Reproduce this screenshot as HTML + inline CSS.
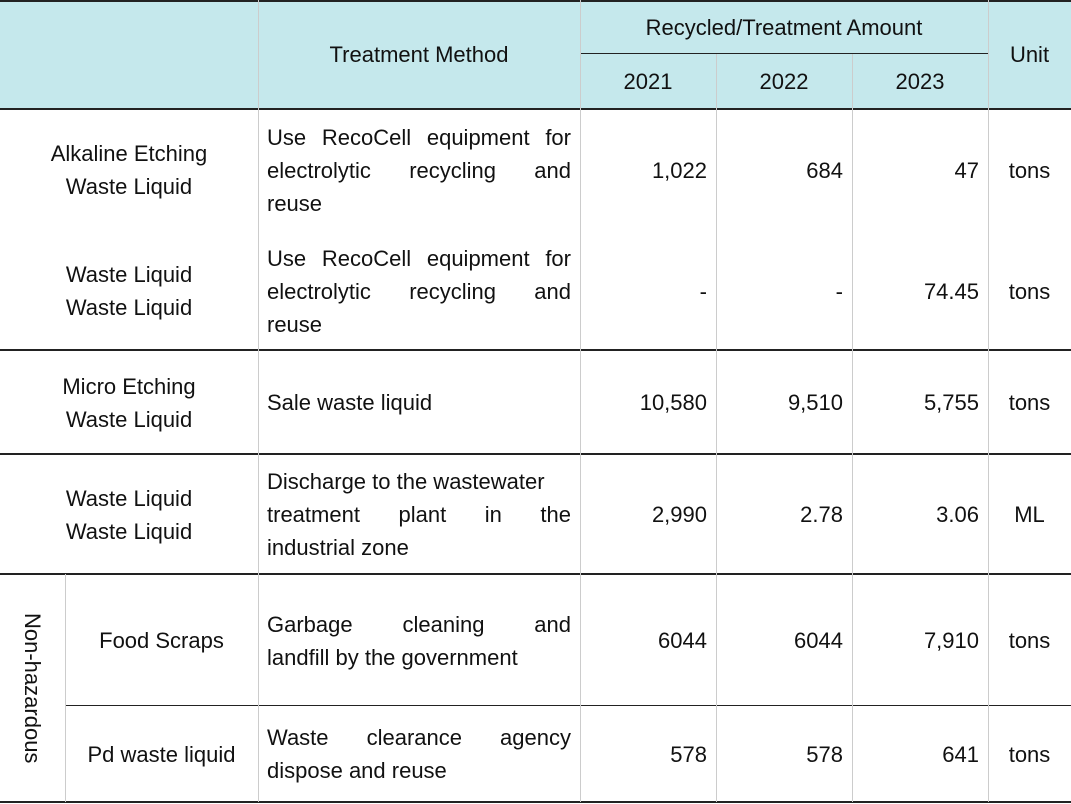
<!DOCTYPE html>
<html><head><meta charset="utf-8"><style>
body{margin:0;width:1071px;height:804px;background:#fff;font-family:"Liberation Sans",sans-serif;color:#111;overflow:hidden;position:relative}
.c{position:absolute;display:flex;align-items:center;justify-content:center;text-align:center;font-size:22px;line-height:33px;box-sizing:border-box}
.r{justify-content:flex-end;padding-right:9px}
.j{justify-content:flex-start;padding:0 9px}
.j>div{width:100%}
.j span{display:block;text-align:justify;text-align-last:justify;white-space:nowrap}
.j span.l{text-align-last:left}
.hl{position:absolute;height:2px;background:#222}
.vl{position:absolute;width:0;border-left:1px solid #ccc}
</style></head><body>
<div style="position:absolute;left:0;top:0;width:1071px;height:109px;background:#c5e8ec"></div>
<div class="hl" style="left:0;top:0;width:1071px"></div>
<div class="hl" style="left:580px;top:53px;width:408px;height:1px"></div>
<div class="hl" style="left:0;top:108px;width:1071px"></div>
<div class="hl" style="left:0;top:349px;width:1071px"></div>
<div class="hl" style="left:0;top:453px;width:1071px"></div>
<div class="hl" style="left:0;top:573px;width:1071px"></div>
<div class="hl" style="left:65px;top:705px;width:1006px;height:1px"></div>
<div class="hl" style="left:0;top:801px;width:1071px"></div>
<div class="vl" style="left:258px;top:0;height:802px"></div>
<div class="vl" style="left:580px;top:0;height:802px"></div>
<div class="vl" style="left:716px;top:54px;height:748px"></div>
<div class="vl" style="left:852px;top:54px;height:748px"></div>
<div class="vl" style="left:988px;top:0;height:802px"></div>
<div class="vl" style="left:65px;top:574px;height:228px"></div>

<div class="c" style="left:258px;top:0;width:322px;height:109px">Treatment Method</div>
<div class="c" style="left:580px;top:0;width:408px;height:54px">Recycled/Treatment Amount</div>
<div class="c" style="left:580px;top:54px;width:136px;height:55px">2021</div>
<div class="c" style="left:716px;top:54px;width:136px;height:55px">2022</div>
<div class="c" style="left:852px;top:54px;width:136px;height:55px">2023</div>
<div class="c" style="left:988px;top:0;width:83px;height:109px">Unit</div>

<div class="c" style="left:0;top:109px;width:258px;height:122px">Alkaline Etching<br>Waste Liquid</div>
<div class="c j" style="left:258px;top:109px;width:322px;height:122px"><div><span>Use RecoCell equipment for</span><span>electrolytic recycling and</span><span class="l">reuse</span></div></div>
<div class="c r" style="left:580px;top:109px;width:136px;height:122px">1,022</div>
<div class="c r" style="left:716px;top:109px;width:136px;height:122px">684</div>
<div class="c r" style="left:852px;top:109px;width:136px;height:122px">47</div>
<div class="c" style="left:988px;top:109px;width:83px;height:122px">tons</div>

<div class="c" style="left:0;top:231px;width:258px;height:120px">Waste Liquid<br>Waste Liquid</div>
<div class="c j" style="left:258px;top:231px;width:322px;height:120px"><div><span>Use RecoCell equipment for</span><span>electrolytic recycling and</span><span class="l">reuse</span></div></div>
<div class="c r" style="left:580px;top:231px;width:136px;height:120px">-</div>
<div class="c r" style="left:716px;top:231px;width:136px;height:120px">-</div>
<div class="c r" style="left:852px;top:231px;width:136px;height:120px">74.45</div>
<div class="c" style="left:988px;top:231px;width:83px;height:120px">tons</div>

<div class="c" style="left:0;top:351px;width:258px;height:103px">Micro Etching<br>Waste Liquid</div>
<div class="c j" style="left:258px;top:351px;width:322px;height:103px"><div><span class="l">Sale waste liquid</span></div></div>
<div class="c r" style="left:580px;top:351px;width:136px;height:103px">10,580</div>
<div class="c r" style="left:716px;top:351px;width:136px;height:103px">9,510</div>
<div class="c r" style="left:852px;top:351px;width:136px;height:103px">5,755</div>
<div class="c" style="left:988px;top:351px;width:83px;height:103px">tons</div>

<div class="c" style="left:0;top:455px;width:258px;height:119px">Waste Liquid<br>Waste Liquid</div>
<div class="c j" style="left:258px;top:455px;width:322px;height:119px"><div><span class="l">Discharge to the wastewater</span><span>treatment plant in the</span><span class="l">industrial zone</span></div></div>
<div class="c r" style="left:580px;top:455px;width:136px;height:119px">2,990</div>
<div class="c r" style="left:716px;top:455px;width:136px;height:119px">2.78</div>
<div class="c r" style="left:852px;top:455px;width:136px;height:119px">3.06</div>
<div class="c" style="left:988px;top:455px;width:83px;height:119px">ML</div>

<div class="c" style="left:0;top:575px;width:65px;height:227px"><span style="writing-mode:vertical-rl">Non-hazardous</span></div>

<div class="c" style="left:65px;top:575px;width:193px;height:131px">Food Scraps</div>
<div class="c j" style="left:258px;top:575px;width:322px;height:131px"><div><span>Garbage cleaning and</span><span class="l">landfill by the government</span></div></div>
<div class="c r" style="left:580px;top:575px;width:136px;height:131px">6044</div>
<div class="c r" style="left:716px;top:575px;width:136px;height:131px">6044</div>
<div class="c r" style="left:852px;top:575px;width:136px;height:131px">7,910</div>
<div class="c" style="left:988px;top:575px;width:83px;height:131px">tons</div>

<div class="c" style="left:65px;top:706px;width:193px;height:96px">Pd waste liquid</div>
<div class="c j" style="left:258px;top:706px;width:322px;height:96px"><div><span>Waste clearance agency</span><span class="l">dispose and reuse</span></div></div>
<div class="c r" style="left:580px;top:706px;width:136px;height:96px">578</div>
<div class="c r" style="left:716px;top:706px;width:136px;height:96px">578</div>
<div class="c r" style="left:852px;top:706px;width:136px;height:96px">641</div>
<div class="c" style="left:988px;top:706px;width:83px;height:96px">tons</div>
</body></html>
